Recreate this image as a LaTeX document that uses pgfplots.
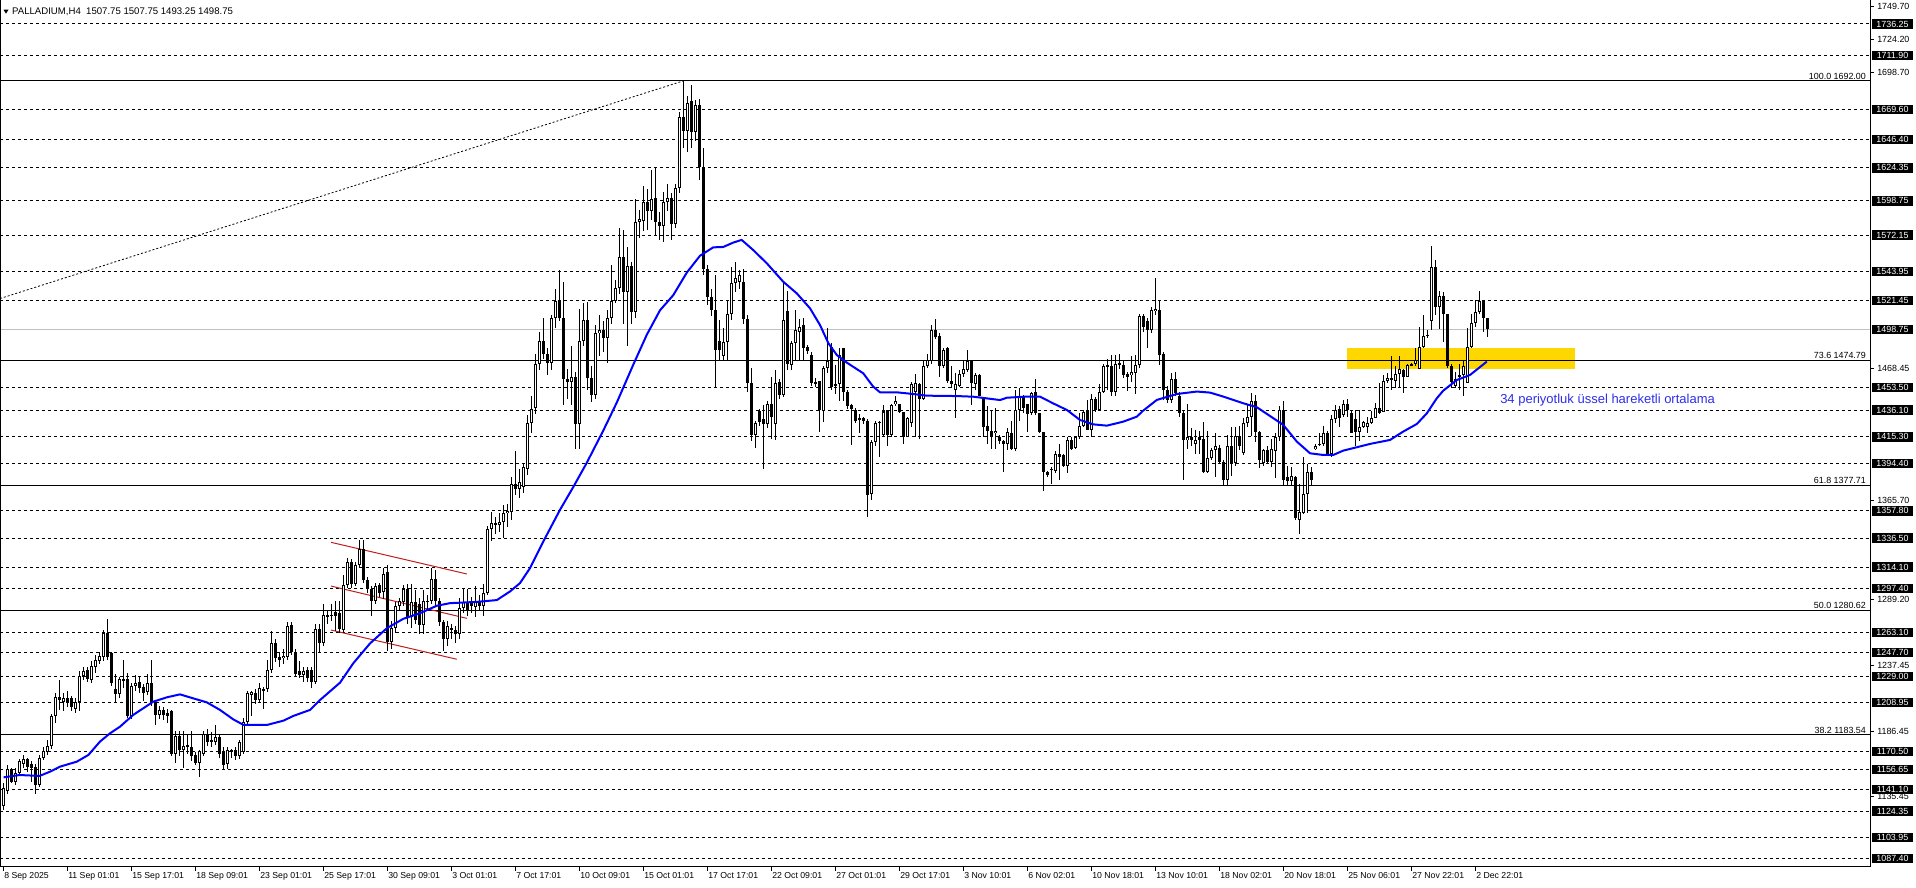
\documentclass[border=0pt]{standalone}
\usepackage{fontspec}
\setmainfont{Liberation Sans}
\usepackage{pgfplots}
\usepackage{pgfplotstable}
\pgfplotsset{compat=1.18}
\definecolor{emablue}{RGB}{0,0,255}
\definecolor{noteblue}{RGB}{45,45,235}
\definecolor{zone}{RGB}{255,215,0}
\definecolor{chan}{RGB}{190,30,30}
\definecolor{bidgrey}{RGB}{192,192,192}
\newcommand\lab{\fontsize{8.9}{10}\selectfont}

% H4 candles, bar index 0 = 8 Sep 2025
\pgfplotstableread{
i O H L C
0 1128 1146 1125 1142
1 1140 1160 1138 1157
2 1157 1158 1146 1147
3 1147 1158 1145 1154
4 1154 1165 1152 1163
5 1161 1168 1158 1165
6 1165 1166 1155 1159
7 1161 1163 1147 1158
8 1159 1161 1138 1145
9 1145 1168 1143 1166
10 1166 1174 1164 1171
11 1170 1180 1168 1175
12 1175 1200 1173 1198
13 1198 1216 1193 1213
14 1213 1226 1203 1211
15 1209 1216 1202 1212
16 1212 1218 1205 1209
17 1212 1214 1202 1205
18 1204 1212 1201 1209
19 1209 1233 1202 1229
20 1229 1236 1226 1233
21 1234 1236 1225 1227
22 1226 1241 1224 1237
23 1236 1246 1232 1242
24 1241 1248 1239 1245
25 1244 1265 1241 1263
26 1263 1274 1242 1244
27 1247 1248 1222 1224
28 1219 1231 1209 1215
29 1215 1229 1212 1227
30 1227 1242 1220 1226
31 1227 1232 1197 1198
32 1198 1224 1196 1222
33 1222 1230 1218 1224
34 1225 1229 1216 1220
35 1221 1223 1210 1216
36 1217 1231 1215 1224
37 1224 1242 1206 1209
38 1209 1210 1191 1199
39 1199 1206 1196 1203
40 1203 1205 1195 1199
41 1201 1204 1193 1198
42 1202 1203 1167 1169
43 1169 1187 1162 1183
44 1183 1187 1167 1172
45 1172 1187 1158 1175
46 1176 1184 1169 1174
47 1174 1187 1163 1167
48 1168 1170 1160 1162
49 1162 1172 1151 1171
50 1169 1187 1167 1184
51 1184 1188 1175 1178
52 1180 1186 1174 1178
53 1178 1191 1176 1182
54 1182 1184 1166 1169
55 1171 1174 1157 1160
56 1161 1174 1157 1172
57 1172 1173 1166 1170
58 1172 1174 1164 1167
59 1167 1180 1165 1178
60 1170 1197 1169 1194
61 1194 1218 1192 1216
62 1215 1218 1198 1217
63 1216 1219 1208 1211
64 1211 1224 1209 1220
65 1219 1221 1204 1218
66 1219 1242 1217 1234
67 1234 1264 1232 1255
68 1255 1258 1240 1243
69 1244 1248 1236 1242
70 1243 1250 1239 1245
71 1244 1271 1242 1268
72 1269 1271 1246 1248
73 1248 1250 1229 1231
74 1233 1241 1228 1230
75 1230 1236 1225 1233
76 1234 1236 1225 1228
77 1234 1236 1220 1225
78 1225 1270 1223 1266
79 1266 1270 1247 1255
80 1255 1285 1253 1277
81 1277 1280 1270 1275
82 1276 1285 1272 1277
83 1279 1288 1264 1276
84 1278 1288 1263 1266
85 1265 1308 1263 1300
86 1300 1321 1298 1318
87 1318 1320 1298 1301
88 1301 1318 1299 1316
89 1316 1335 1313 1328
90 1328 1335 1302 1304
91 1304 1306 1294 1297
92 1297 1299 1276 1288
93 1288 1302 1285 1299
94 1300 1302 1291 1294
95 1295 1313 1289 1309
96 1310 1316 1249 1256
97 1256 1272 1250 1267
98 1267 1287 1263 1284
99 1284 1290 1280 1288
100 1287 1300 1284 1297
101 1297 1301 1270 1275
102 1275 1301 1267 1287
103 1287 1296 1270 1273
104 1285 1290 1262 1269
105 1269 1296 1262 1288
106 1288 1292 1280 1287
107 1288 1313 1285 1305
108 1305 1312 1283 1288
109 1288 1290 1268 1271
110 1271 1273 1249 1258
111 1258 1272 1253 1268
112 1267 1270 1258 1265
113 1265 1268 1255 1262
114 1262 1290 1258 1282
115 1282 1297 1278 1287
116 1287 1297 1276 1281
117 1287 1291 1278 1284
118 1283 1299 1275 1287
119 1287 1292 1280 1284
120 1284 1301 1276 1294
121 1294 1346 1292 1344
122 1344 1357 1334 1348
123 1348 1353 1340 1347
124 1347 1356 1341 1349
125 1349 1362 1337 1356
126 1356 1363 1345 1358
127 1357 1384 1351 1379
128 1379 1404 1370 1375
129 1375 1390 1368 1380
130 1376 1395 1372 1392
131 1390 1432 1386 1426
132 1426 1447 1418 1437
133 1438 1480 1433 1472
134 1472 1497 1467 1490
135 1490 1508 1476 1480
136 1480 1484 1463 1473
137 1473 1510 1467 1508
138 1508 1530 1500 1521
139 1521 1545 1505 1508
140 1508 1536 1440 1460
141 1460 1468 1445 1458
142 1458 1486 1440 1462
143 1462 1466 1406 1425
144 1425 1515 1406 1490
145 1490 1519 1486 1506
146 1506 1520 1452 1461
147 1461 1470 1442 1448
148 1448 1502 1445 1496
149 1496 1510 1478 1498
150 1498 1505 1481 1492
151 1492 1514 1473 1508
152 1508 1549 1503 1521
153 1521 1537 1519 1531
154 1531 1578 1526 1555
155 1555 1576 1503 1528
156 1528 1563 1486 1548
157 1548 1551 1503 1512
158 1512 1600 1508 1582
159 1582 1592 1570 1585
160 1583 1610 1575 1598
161 1598 1608 1576 1591
162 1591 1623 1584 1600
163 1601 1624 1572 1582
164 1582 1590 1568 1579
165 1579 1606 1567 1598
166 1598 1612 1591 1601
167 1601 1605 1568 1581
168 1581 1612 1578 1609
169 1609 1668 1605 1664
170 1664 1692 1640 1653
171 1653 1680 1637 1675
172 1676 1689 1640 1652
173 1652 1677 1645 1673
174 1673 1678 1615 1625
175 1625 1640 1541 1546
176 1546 1549 1518 1524
177 1524 1530 1509 1514
178 1514 1541 1454 1483
179 1490 1506 1474 1483
180 1478 1500 1474 1489
181 1489 1521 1474 1511
182 1511 1547 1506 1535
183 1535 1551 1528 1539
184 1536 1545 1530 1541
185 1536 1546 1503 1507
186 1507 1510 1450 1457
187 1457 1469 1412 1417
188 1417 1428 1407 1426
189 1435 1437 1424 1427
190 1429 1440 1390 1425
191 1425 1443 1422 1441
192 1441 1462 1414 1431
193 1425 1467 1413 1457
194 1458 1460 1445 1448
195 1448 1535 1446 1506
196 1513 1529 1467 1472
197 1471 1490 1467 1488
198 1488 1514 1475 1498
199 1497 1507 1475 1501
200 1502 1508 1475 1484
201 1485 1487 1480 1482
202 1479 1481 1455 1457
203 1457 1461 1454 1458
204 1459 1459 1419 1436
205 1435 1470 1427 1469
206 1469 1500 1465 1474
207 1485 1488 1452 1454
208 1456 1471 1449 1455
209 1456 1484 1443 1479
210 1484 1484 1443 1450
211 1450 1452 1437 1439
212 1440 1441 1409 1437
213 1436 1438 1426 1428
214 1430 1433 1418 1429
215 1430 1431 1425 1428
216 1428 1429 1353 1370
217 1371 1413 1366 1411
218 1411 1428 1408 1426
219 1426 1428 1400 1427
220 1417 1440 1415 1435
221 1436 1436 1408 1417
222 1417 1441 1415 1440
223 1441 1447 1439 1443
224 1441 1441 1434 1435
225 1435 1435 1410 1415
226 1415 1431 1415 1430
227 1426 1458 1423 1456
228 1450 1464 1415 1457
229 1456 1457 1414 1445
230 1445 1474 1444 1470
231 1470 1480 1469 1475
232 1474 1502 1472 1498
233 1498 1507 1491 1493
234 1494 1496 1462 1470
235 1470 1484 1469 1483
236 1484 1485 1457 1459
237 1459 1470 1453 1456
238 1452 1465 1430 1456
239 1455 1467 1454 1464
240 1464 1475 1462 1468
241 1467 1483 1466 1474
242 1474 1474 1440 1457
243 1456 1465 1452 1463
244 1463 1464 1447 1447
245 1445 1446 1415 1423
246 1424 1439 1410 1420
247 1420 1436 1406 1415
248 1418 1438 1406 1420
249 1415 1417 1410 1412
250 1412 1413 1388 1410
251 1410 1422 1405 1419
252 1418 1428 1405 1406
253 1406 1452 1404 1436
254 1436 1453 1428 1447
255 1447 1448 1434 1438
256 1441 1441 1419 1433
257 1434 1450 1432 1449
258 1450 1460 1432 1434
259 1434 1434 1418 1419
260 1419 1419 1373 1388
261 1388 1389 1384 1386
262 1390 1392 1379 1390
263 1389 1404 1387 1402
264 1402 1410 1382 1400
265 1401 1402 1392 1393
266 1393 1415 1387 1413
267 1413 1415 1405 1406
268 1407 1416 1406 1415
269 1415 1434 1414 1424
270 1424 1436 1423 1435
271 1435 1444 1421 1421
272 1421 1449 1415 1445
273 1445 1446 1435 1436
274 1436 1456 1435 1450
275 1450 1472 1449 1470
276 1470 1476 1452 1471
277 1470 1479 1447 1450
278 1450 1479 1447 1472
279 1473 1480 1468 1471
280 1471 1474 1461 1463
281 1464 1466 1451 1462
282 1463 1478 1458 1466
283 1465 1479 1449 1471
284 1471 1511 1469 1509
285 1509 1511 1497 1501
286 1505 1508 1484 1498
287 1498 1516 1496 1514
288 1513 1539 1510 1515
289 1514 1521 1471 1479
290 1480 1481 1444 1452
291 1452 1455 1442 1444
292 1444 1465 1442 1460
293 1460 1466 1447 1449
294 1447 1450 1431 1434
295 1434 1435 1382 1413
296 1413 1441 1406 1415
297 1415 1422 1408 1413
298 1410 1421 1402 1413
299 1415 1420 1402 1413
300 1414 1427 1387 1388
301 1388 1420 1387 1399
302 1399 1407 1397 1405
303 1405 1418 1384 1408
304 1407 1409 1394 1396
305 1396 1397 1377 1382
306 1382 1417 1377 1408
307 1408 1423 1385 1395
308 1395 1423 1393 1416
309 1416 1424 1405 1408
310 1403 1430 1401 1426
311 1426 1441 1423 1431
312 1431 1449 1416 1443
313 1443 1448 1411 1419
314 1419 1420 1391 1397
315 1395 1406 1393 1405
316 1405 1408 1394 1396
317 1396 1414 1392 1406
318 1404 1418 1383 1415
319 1415 1439 1412 1436
320 1436 1443 1377 1382
321 1384 1393 1377 1381
322 1381 1392 1377 1385
323 1384 1385 1351 1352
324 1351 1379 1340 1357
325 1356 1400 1355 1371
326 1371 1394 1356 1388
327 1388 1392 1377 1382
328 1406 1410 1405 1408
329 1409 1418 1408 1410
330 1410 1424 1408 1418
331 1418 1420 1401 1402
332 1402 1432 1400 1429
333 1429 1440 1426 1436
334 1437 1439 1423 1430
335 1432 1444 1431 1441
336 1441 1445 1431 1436
337 1434 1436 1418 1418
338 1429 1436 1408 1419
339 1419 1436 1412 1423
340 1423 1428 1422 1427
341 1423 1431 1418 1426
342 1426 1435 1425 1430
343 1430 1442 1430 1438
344 1438 1457 1433 1434
345 1435 1463 1435 1459
346 1459 1465 1457 1461
347 1461 1478 1452 1460
348 1459 1470 1453 1464
349 1464 1478 1454 1468
350 1467 1468 1449 1462
351 1462 1472 1462 1471
352 1472 1473 1470 1471
353 1472 1484 1470 1475
354 1468 1501 1468 1485
355 1485 1510 1484 1494
356 1494 1498 1492 1494.5
357 1505 1564 1498 1547
358 1547 1553 1510 1516
359 1516 1529 1499 1525
360 1525 1528 1489 1511
361 1511 1511 1469 1470
362 1470 1472 1453 1458
363 1455 1466 1453 1460
364 1463 1472 1452 1462
365 1463 1474 1447 1470
366 1457 1500 1457 1485
367 1485 1511 1484 1504
368 1504 1522 1501 1512
369 1512 1529 1511 1521
370 1522 1522 1497 1507.5
371 1507.75 1507.75 1493.25 1498.75
}\candles

\begin{document}
\begin{tikzpicture}
\useasboundingbox (0pt,0pt) rectangle (1916pt,888pt);
\begin{axis}[
  at={(0pt,21pt)}, anchor=south west,
  scale only axis, width=1870pt, height=867pt,
  xmin=-0.9, xmax=466.6, ymin=1080.9, ymax=1754.9,
  clip=false,
  axis x line*=bottom, axis y line*=right,
  axis line style={line width=1pt, black},
  tick align=outside, major tick length=4pt,
  tick style={black, line width=1pt},
  xtick={0,16,...,368},
  xticklabels={8 Sep 2025, 11 Sep 01:01, 15 Sep 17:01, 18 Sep 09:01, 23 Sep 01:01,
    25 Sep 17:01, 30 Sep 09:01, 3 Oct 01:01, 7 Oct 17:01, 10 Oct 09:01, 15 Oct 01:01,
    17 Oct 17:01, 22 Oct 09:01, 27 Oct 01:01, 29 Oct 17:01, 3 Nov 10:01, 6 Nov 02:01,
    10 Nov 18:01, 13 Nov 10:01, 18 Nov 02:01, 20 Nov 18:01, 25 Nov 06:01,
    27 Nov 22:01, 2 Dec 22:01},
  xticklabel style={anchor=north west, inner sep=0pt, xshift=0.5pt, yshift=-1.5pt,
    font=\fontsize{8.7}{9}\selectfont},
  ytick=\empty,
]
% yellow support zone
\fill[zone] (axis cs:335.8,1484.1) rectangle (axis cs:392.85,1468.0);
% price level lines
\pgfplotsinvokeforeach{1736.25,1711.90,1669.60,1646.40,1624.35,1598.75,1572.15,1543.95,
  1521.45,1453.50,1436.10,1415.30,1394.40,1357.80,1336.50,1314.10,1297.40,1263.10,
  1247.70,1229.00,1208.95,1170.50,1156.65,1141.10,1124.35,1103.95,1087.40}{
  \draw[black, line width=1pt, dash pattern=on 3pt off 3pt]
    (axis cs:-0.9,#1) -- (axis cs:466.6,#1);
}
\draw[bidgrey, line width=1pt] (axis cs:-0.9,1498.75) -- (axis cs:466.6,1498.75);
% fibonacci levels
\pgfplotsinvokeforeach{1692.00,1474.79,1377.71,1280.62,1183.54}{
  \draw[black, line width=1pt] (axis cs:-0.9,#1) -- (axis cs:466.6,#1);
}
\draw[black, line width=0.8pt, dash pattern=on 2pt off 2pt]
  (axis cs:-0.9,1522.8) -- (axis cs:169.9,1692);
% flag channel
\draw[chan, line width=1pt] (axis cs:81.85,1333.3) -- (axis cs:115.8,1308.7);
\draw[chan, line width=1pt] (axis cs:81.85,1299.3) -- (axis cs:115.8,1274.2);
\draw[chan, line width=1pt] (axis cs:81.85,1265.1) -- (axis cs:113.3,1242.4);

% candles: wick, body, hollow inside of up candles
\addplot[draw=none, mark=none, forget plot,
  error bars/.cd, y dir=both, y explicit, error mark=none,
  error bar style={draw=black, line width=1pt}]
  table[x=i, y expr={(\thisrow{H}+\thisrow{L})/2},
        y error expr={(\thisrow{H}-\thisrow{L})/2}] {\candles};
\addplot[draw=none, mark=none, forget plot,
  error bars/.cd, y dir=both, y explicit, error mark=none,
  error bar style={draw=black, line width=3pt}]
  table[x=i, y expr={(\thisrow{O}+\thisrow{C})/2},
        y error expr={max(abs(\thisrow{C}-\thisrow{O})/2,0.39)}] {\candles};
\addplot[draw=none, mark=none, forget plot,
  error bars/.cd, y dir=both, y explicit, error mark=none,
  error bar style={draw=white, line width=1pt}]
  table[x=i, y expr={(\thisrow{O}+\thisrow{C})/2},
        y error expr={max((\thisrow{C}-\thisrow{O})/2-0.78,0)}] {\candles};

% 34 EMA
\addplot[emablue, line width=2pt, mark=none] coordinates {
(0,1150.6) (4,1152.4) (9,1151.7) (11.6,1155) (14.1,1158.9) (18.3,1162.8) (21.2,1168)
(24.1,1178.4) (26.6,1184.8) (29.1,1190) (32.4,1199.1) (37.4,1209.4) (40.8,1212.8)
(44.1,1215.1) (47.4,1212) (50.8,1208.9) (54.1,1203) (57.4,1195.7) (60,1191.3)
(65.8,1191.3) (70,1194.7) (72.4,1198.3) (76.6,1203) (79.1,1210.7) (84.1,1224.2)
(87.4,1239.2) (91.6,1254.7) (95.8,1266.5) (99.9,1273.8) (104.1,1278.2) (108.3,1284)
(111.6,1286) (118.3,1287) (123.3,1288.4) (126.6,1295.1) (129.1,1301.6) (131.6,1313.3)
(134.9,1333.8) (139.1,1358.6) (142.4,1376.2) (145.8,1395.2) (149.9,1420.1)
(153.3,1442) (157.4,1471.3) (160.8,1494.7) (164.1,1513.7) (167.4,1525.4)
(170.8,1543) (174.1,1556.1) (177.4,1562.6) (179.9,1562.9) (182.4,1566.3)
(184.5,1568.4) (187.4,1560.5) (190.8,1550.2) (194.9,1535.9) (198.3,1526.8)
(201.6,1515.2) (204.1,1502.2) (206.2,1488) (208.3,1478.9) (210.8,1473)
(214.9,1464.7) (217.4,1454.3) (219.1,1449.9) (223.3,1449.9) (227.4,1448.6)
(230.8,1447.3) (238.3,1447) (242.4,1446.5) (245.8,1445.2) (249.1,1443.9)
(250.8,1445.7) (255,1446.5) (259.1,1446.5) (262.4,1441.3) (265.8,1436.2)
(269.1,1428.4) (272.4,1425) (275.8,1424) (279.9,1427.1) (283.3,1431) (284.9,1435.7)
(288.3,1444) (293.3,1448.6) (298.3,1450.5) (301.6,1449.7) (304.9,1446.6)
(309.9,1441.4) (313.3,1438.3) (316.6,1431.5) (319.9,1424.6) (323.3,1411.6)
(326.6,1402.5) (329.9,1401.2) (332.4,1401.2) (334.9,1404.6) (338.3,1407.2)
(341.6,1409.8) (346.6,1412.9) (349.9,1419.4) (353.3,1425.3) (355.8,1433.6)
(358.3,1445.3) (359.9,1451.2) (363.3,1459.5) (366.6,1463.4) (370.8,1473.8)
};

\node[anchor=west, inner sep=0pt, text=noteblue, font=\fontsize{13}{15}\selectfont]
  at (axis cs:374.1,1444.0) {34 periyotluk üssel hareketli ortalama};

% fibonacci labels
\node[anchor=south east, inner sep=0pt, xshift=-4pt, yshift=1.5pt, font=\lab] at (axis cs:466.6,1692.00) {100.0 1692.00};
\node[anchor=south east, inner sep=0pt, xshift=-4pt, yshift=1.5pt, font=\lab] at (axis cs:466.6,1474.79) {73.6 1474.79};
\node[anchor=south east, inner sep=0pt, xshift=-4pt, yshift=1.5pt, font=\lab] at (axis cs:466.6,1377.71) {61.8 1377.71};
\node[anchor=south east, inner sep=0pt, xshift=-4pt, yshift=1.5pt, font=\lab] at (axis cs:466.6,1280.62) {50.0 1280.62};
\node[anchor=south east, inner sep=0pt, xshift=-4pt, yshift=1.5pt, font=\lab] at (axis cs:466.6,1183.54) {38.2 1183.54};

% price scale
\pgfplotsinvokeforeach{1749.70,1724.20,1698.70,1468.45,1365.70,1289.20,1237.45,1186.45,1135.45}{
  \draw[black, line width=1pt] (axis cs:466.6,#1) -- ++(3.5pt,0pt);
  \node[anchor=west, inner sep=0pt, xshift=7pt, font=\lab] at (axis cs:466.6,#1) {#1};
}
\pgfplotsinvokeforeach{1736.25,1711.90,1669.60,1646.40,1624.35,1598.75,1572.15,1543.95,
  1521.45,1498.75,1453.50,1436.10,1415.30,1394.40,1357.80,1336.50,1314.10,1297.40,1263.10,
  1247.70,1229.00,1208.95,1170.50,1156.65,1141.10,1124.35,1103.95,1087.40}{
  \node[anchor=west, fill=black, text=white, inner sep=0pt, minimum width=41.5pt,
    minimum height=9.5pt, xshift=1.5pt, font=\lab] at (axis cs:466.6,#1) {#1};
}
\end{axis}
\draw[black, line width=1pt] (0.5pt,21pt) -- (0.5pt,888pt);
\fill[black] (3.5pt,878.3pt) -- (8.5pt,878.3pt) -- (6pt,874.3pt) -- cycle;
\node[anchor=west, inner sep=0pt, font=\fontsize{9.6}{11}\selectfont] at (12pt,876.3pt)
  {PALLADIUM,H4\ \ 1507.75 1507.75 1493.25 1498.75};
\end{tikzpicture}
\end{document}
